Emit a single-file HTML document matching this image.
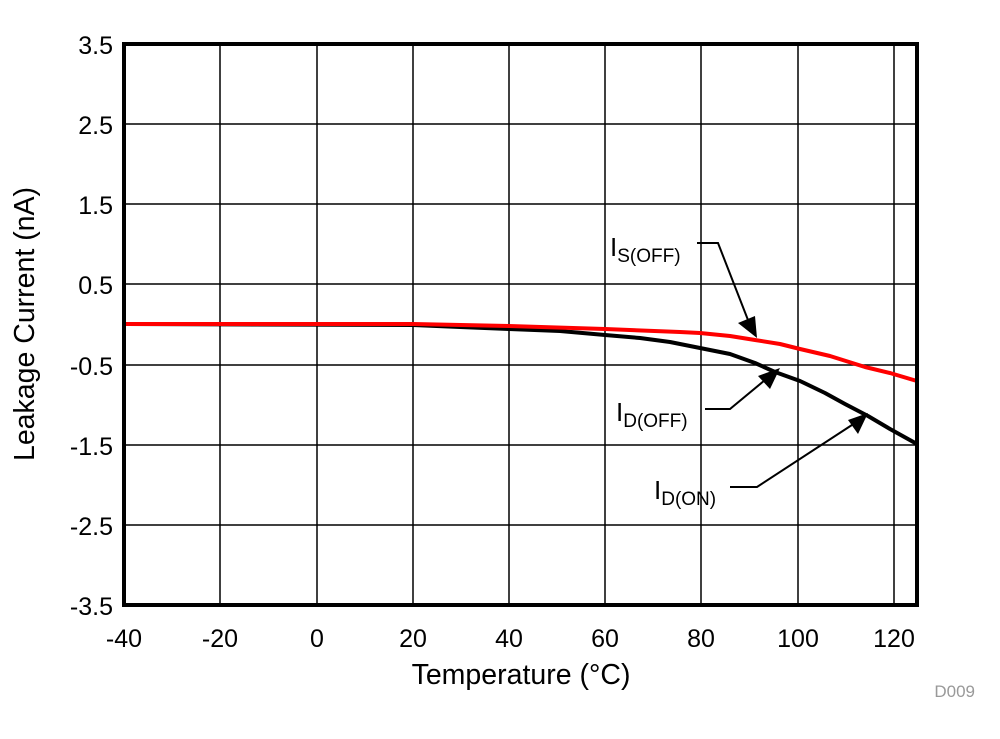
<!DOCTYPE html>
<html><head><style>body{margin:0;background:#fff}</style></head><body>
<svg width="1000" height="734" xmlns="http://www.w3.org/2000/svg" font-family="Liberation Sans, Arial, sans-serif">
<g stroke="#000" stroke-width="1.5">
<line x1="220" y1="44" x2="220" y2="605"/><line x1="317" y1="44" x2="317" y2="605"/><line x1="413" y1="44" x2="413" y2="605"/><line x1="509" y1="44" x2="509" y2="605"/><line x1="605" y1="44" x2="605" y2="605"/><line x1="701" y1="44" x2="701" y2="605"/><line x1="798" y1="44" x2="798" y2="605"/><line x1="894" y1="44" x2="894" y2="605"/>
<line x1="124" y1="124" x2="917" y2="124"/><line x1="124" y1="204" x2="917" y2="204"/><line x1="124" y1="284" x2="917" y2="284"/><line x1="124" y1="365" x2="917" y2="365"/><line x1="124" y1="445" x2="917" y2="445"/><line x1="124" y1="525" x2="917" y2="525"/>
</g>
<polyline fill="none" stroke="#000" stroke-width="4" stroke-linejoin="round" points="124,324 413,325 460,327 509,329 560,331 605,335 640,338 670,342 700,348 730,354 755,363 775,372 800,381 825,393 845,404 868,416 890,429 917,444"/>
<polyline fill="none" stroke="#f00" stroke-width="4" stroke-linejoin="round" points="124,324 413,324 509,326 605,329 680,332 700,333 730,336 755,340 780,344 800,349 830,356 865,367 890,373 917,381"/>
<rect x="124" y="44" width="793" height="561" fill="none" stroke="#000" stroke-width="4"/>
<g stroke="#000" stroke-width="2" fill="none">
<polyline points="697,243 718,243 748,320"/>
<polyline points="705,409 730,409 765,380"/>
<polyline points="730,487 757,487 855,423"/>
</g>
<g fill="#000">
<polygon points="757,338 738,323 755,316"/>
<polygon points="780,368 770,389 758,376"/>
<polygon points="868,413 858,434 848,420"/>
</g>
<g font-size="26" fill="#000">
<text x="610" y="256">I<tspan font-size="19" dy="6">S(OFF)</tspan></text>
<text x="616" y="421">I<tspan font-size="19" dy="6">D(OFF)</tspan></text>
<text x="654" y="499">I<tspan font-size="19" dy="6">D(ON)</tspan></text>
</g>
<g font-size="25" text-anchor="end">
<text x="113" y="54">3.5</text><text x="113" y="134">2.5</text><text x="113" y="214">1.5</text><text x="113" y="294">0.5</text><text x="113" y="375">-0.5</text><text x="113" y="455">-1.5</text><text x="113" y="535">-2.5</text><text x="113" y="615">-3.5</text>
</g>
<g font-size="25" text-anchor="middle">
<text x="124" y="647">-40</text><text x="220" y="647">-20</text><text x="317" y="647">0</text><text x="413" y="647">20</text><text x="509" y="647">40</text><text x="605" y="647">60</text><text x="701" y="647">80</text><text x="798" y="647">100</text><text x="894" y="647">120</text>
<text x="521" y="684" font-size="28.5">Temperature (°C)</text>
<text transform="translate(34,324) rotate(-90)" font-size="28.5">Leakage Current (nA)</text>
</g>
<text x="975" y="697" font-size="17" fill="#999" text-anchor="end">D009</text>
</svg>
</body></html>
